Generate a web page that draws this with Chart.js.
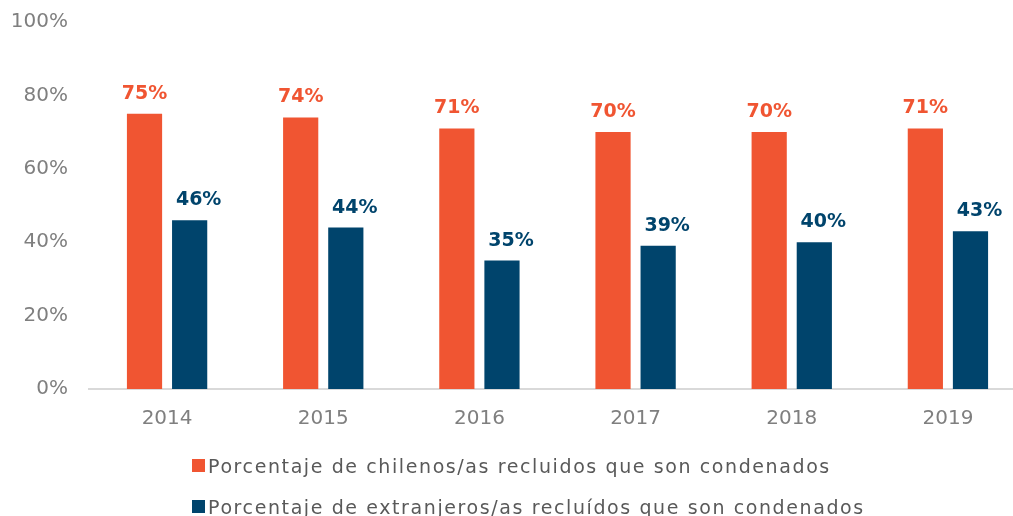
<!DOCTYPE html>
<html>
<head>
<meta charset="utf-8">
<script src="https://cdn.jsdelivr.net/npm/chart.js@4.4.1/dist/chart.umd.min.js"></script>
<style>
  html, body { margin: 0; padding: 0; background: #fff; overflow: hidden; }
  #wrap { position: relative; width: 1013px; height: 516px; overflow: hidden; }
  #myChart { position: absolute; left: 0; top: 0; }
  #legend { position: absolute; left: 192px; top: 445px; font-family: "DejaVu Sans", sans-serif; font-size: 19px; color: #595959; letter-spacing: 1.6px; }
  .item { display: flex; align-items: center; height: 41px; white-space: nowrap; }
  .box { width: 13px; height: 13px; margin-right: 3px; }
</style>
</head>
<body>
<div id="wrap">
  <canvas id="myChart" width="1030" height="516"></canvas>
  <div id="legend"></div>
</div>
<script>
const years = ["2014", "2015", "2016", "2017", "2018", "2019"];
const chilenos = [75, 74, 71, 70, 70, 71];
const extranjeros = [46, 44, 35, 39, 40, 43];
const seriesNames = [
  "Porcentaje de chilenos/as recluidos que son condenados",
  "Porcentaje de extranjeros/as recluídos que son condenados"
];
const seriesColors = ["#F05532", "#00446C"];
const yTicks = [0, 20, 40, 60, 80, 100];

// value labels above bars
const barLabels = {
  id: "barLabels",
  afterDatasetsDraw(chart) {
    const ctx = chart.ctx;
    ctx.save();
    ctx.font = "bold 19px 'DejaVu Sans'";
    ctx.textAlign = "center";
    ctx.textBaseline = "alphabetic";
    chart.data.datasets.forEach((ds, i) => {
      const meta = chart.getDatasetMeta(i);
      const dx = i === 1 ? 9 : 0;
      ctx.fillStyle = ds.backgroundColor;
      meta.data.forEach((bar, j) => {
        ctx.fillText(ds.data[j] + "%", bar.x + dx, bar.y - 15);
      });
    });
    ctx.restore();
  }
};

const ctx = document.getElementById("myChart").getContext("2d");

const myChart = new Chart(ctx, {
  type: "bar",
  data: {
    labels: years,
    datasets: [
      {
        label: seriesNames[0],
        data: chilenos,
        backgroundColor: seriesColors[0],
        categoryPercentage: 0.578,
        barPercentage: 0.78
      },
      {
        label: seriesNames[1],
        data: extranjeros,
        backgroundColor: seriesColors[1],
        categoryPercentage: 0.578,
        barPercentage: 0.78
      }
    ]
  },
  options: {
    responsive: false,
    animation: false,
    layout: { padding: { top: 22, right: 4, bottom: 87, left: 0 } },
    plugins: {
      legend: { display: false },
      tooltip: { enabled: false }
    },
    scales: {
      x: {
        grid: { display: false, drawTicks: false },
        border: { display: true, color: "#d9d9d9", width: 2 },
        ticks: {
          color: "#7f7f7f",
          font: { family: "DejaVu Sans", size: 20 },
          padding: 18
        },
        afterFit(scale) { scale.height = 40; }
      },
      y: {
        min: 0,
        max: 100,
        grid: { display: false, drawTicks: false },
        border: { display: false },
        afterBuildTicks(scale) { scale.ticks = yTicks.map(v => ({ value: v })); },
        ticks: {
          color: "#7f7f7f",
          font: { family: "DejaVu Sans", size: 20 },
          padding: 21,
          callback: v => v + "%"
        },
        afterFit(scale) {
          scale.width = 89;
          // tick padding would otherwise push the plot area down
          scale.paddingTop = 12;
          scale.paddingBottom = 12;
        }
      }
    }
  },
  plugins: [barLabels]
});

// legend built from the datasets, rows left-aligned
const legend = document.getElementById("legend");
myChart.data.datasets.forEach(ds => {
  const item = document.createElement("div");
  item.className = "item";
  const box = document.createElement("span");
  box.className = "box";
  box.style.background = ds.backgroundColor;
  const txt = document.createElement("span");
  txt.textContent = ds.label;
  item.appendChild(box);
  item.appendChild(txt);
  legend.appendChild(item);
});
</script>
</body>
</html>
